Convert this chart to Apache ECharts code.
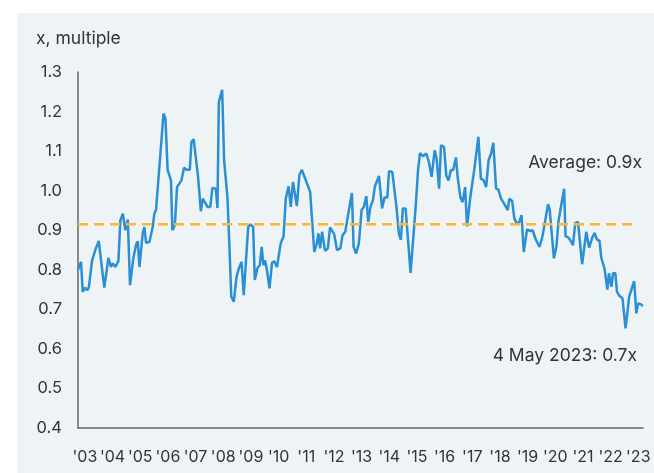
<!DOCTYPE html>
<html>
<head>
<meta charset="utf-8">
<style>
  html, body { margin: 0; padding: 0; background: #ffffff; }
  #chart { width: 654px; height: 473px; }
</style>
<script src="https://cdn.jsdelivr.net/npm/echarts@6/dist/echarts.min.js"></script>
</head>
<body>
<div id="chart"></div>
<script>
// Time as decimal years
const dates = [
  2002.75, 2002.86, 2002.92, 2003.01, 2003.08, 2003.14, 2003.26, 2003.38, 2003.50, 2003.70,
  2003.85, 2003.94, 2004.01, 2004.10, 2004.21, 2004.28, 2004.37, 2004.46, 2004.55, 2004.63,
  2004.75, 2004.85, 2004.91, 2004.97, 2005.09, 2005.15, 2005.21, 2005.33, 2005.45, 2005.51,
  2005.57, 2005.84, 2005.91, 2005.99, 2006.11, 2006.16, 2006.25, 2006.33, 2006.49, 2006.58,
  2006.67, 2006.79, 2006.85, 2006.93, 2007.09, 2007.19, 2007.26, 2007.43, 2007.53, 2007.61,
  2007.73, 2007.79, 2007.84, 2007.96, 2008.03, 2008.15, 2008.21, 2008.29, 2008.38, 2008.48,
  2008.56, 2008.66, 2008.74, 2008.90, 2008.98, 2009.08, 2009.14, 2009.24, 2009.32, 2009.39,
  2009.45, 2009.51, 2009.57, 2009.67, 2009.76, 2009.84, 2009.94, 2009.99, 2010.08, 2010.18,
  2010.26, 2010.36, 2010.44, 2010.52, 2010.59, 2010.66, 2010.75, 2010.84, 2011.14, 2011.29,
  2011.38, 2011.44, 2011.50, 2011.57, 2011.68, 2011.78, 2011.86, 2012.01, 2012.11, 2012.23,
  2012.31, 2012.41, 2012.53, 2012.65, 2012.71, 2012.80, 2012.90, 2013.00, 2013.08, 2013.17,
  2013.24, 2013.32, 2013.41, 2013.48, 2013.63, 2013.74, 2013.83, 2013.93, 2013.99, 2014.11,
  2014.26, 2014.35, 2014.42, 2014.49, 2014.59, 2014.77, 2014.95, 2015.04, 2015.11, 2015.22,
  2015.34, 2015.43, 2015.53, 2015.64, 2015.71, 2015.80, 2015.87, 2015.98, 2016.06, 2016.14,
  2016.23, 2016.31, 2016.41, 2016.47, 2016.57, 2016.65, 2016.74, 2016.81, 2016.93, 2017.07,
  2017.22, 2017.31, 2017.41, 2017.50, 2017.59, 2017.68, 2017.76, 2017.86, 2017.94, 2018.04,
  2018.16, 2018.28, 2018.34, 2018.44, 2018.52, 2018.62, 2018.70, 2018.78, 2018.86, 2018.98,
  2019.10, 2019.18, 2019.30, 2019.43, 2019.53, 2019.74, 2019.80, 2019.95, 2020.04, 2020.12,
  2020.19, 2020.32, 2020.37, 2020.46, 2020.56, 2020.64, 2020.72, 2020.82, 2020.97, 2021.12,
  2021.22, 2021.34, 2021.42, 2021.51, 2021.60, 2021.66, 2021.78, 2021.88, 2021.94, 2022.03,
  2022.09, 2022.17, 2022.23, 2022.33, 2022.43, 2022.54, 2022.59, 2022.67, 2022.85, 2022.93,
  2022.99, 2023.09, 2023.17
];
const values = [
  0.800, 0.820, 0.744, 0.755, 0.748, 0.755, 0.824, 0.851, 0.873, 0.755,
  0.830, 0.807, 0.816, 0.807, 0.822, 0.925, 0.942, 0.900, 0.927, 0.761,
  0.829, 0.864, 0.872, 0.807, 0.892, 0.908, 0.868, 0.870, 0.908, 0.942,
  0.951, 1.195, 1.182, 1.052, 1.026, 0.900, 0.913, 1.009, 1.026, 1.058,
  1.053, 1.053, 1.123, 1.130, 1.035, 0.948, 0.980, 0.959, 0.959, 1.007,
  1.005, 0.956, 1.224, 1.255, 1.077, 0.984, 0.883, 0.732, 0.719, 0.782,
  0.803, 0.820, 0.736, 0.908, 0.915, 0.908, 0.774, 0.805, 0.812, 0.858,
  0.812, 0.824, 0.803, 0.753, 0.817, 0.822, 0.807, 0.810, 0.868, 0.885,
  0.980, 1.011, 0.959, 1.022, 1.018, 0.961, 1.039, 1.053, 0.997, 0.845,
  0.866, 0.892, 0.854, 0.896, 0.848, 0.854, 0.907, 0.890, 0.850, 0.854,
  0.887, 0.896, 0.946, 0.994, 0.858, 0.841, 0.866, 0.951, 0.959, 0.986,
  0.921, 0.959, 0.976, 1.011, 1.037, 0.955, 0.983, 0.983, 1.049, 1.047,
  0.959, 0.890, 0.876, 0.955, 0.955, 0.792, 0.955, 1.052, 1.095, 1.087,
  1.094, 1.073, 1.035, 1.102, 1.081, 1.005, 1.115, 1.110, 1.039, 1.026,
  1.052, 1.052, 1.084, 1.035, 0.983, 0.971, 1.009, 0.910, 0.984, 1.052,
  1.136, 1.031, 1.026, 1.009, 1.077, 1.094, 1.121, 1.005, 1.003, 0.980,
  0.966, 0.951, 0.980, 0.974, 0.930, 0.915, 0.921, 0.938, 0.845, 0.902,
  0.898, 0.900, 0.876, 0.858, 0.882, 0.966, 0.951, 0.829, 0.858, 0.925,
  0.930, 1.005, 0.885, 0.882, 0.873, 0.862, 0.918, 0.921, 0.814, 0.896,
  0.856, 0.882, 0.893, 0.876, 0.873, 0.831, 0.803, 0.750, 0.791, 0.757,
  0.792, 0.791, 0.744, 0.733, 0.728, 0.652, 0.656, 0.732, 0.771, 0.690,
  0.715, 0.713, 0.708
];
const averageValue = 0.915;
const averageSpan = [2002.75, 2022.95];
const yearTicks = [2003, 2004, 2005, 2006, 2007, 2008, 2009, 2010, 2011, 2012, 2013,
                   2014, 2015, 2016, 2017, 2018, 2019, 2020, 2021, 2022, 2023];
const yTicks = [0.4, 0.5, 0.6, 0.7, 0.8, 0.9, 1.0, 1.1, 1.2, 1.3];

const seriesData = dates.map((d, i) => [d, values[i]]);
const avgData = averageSpan.map(d => [d, averageValue]);

const FONT = 'Inter, "Noto Sans", sans-serif';
const chart = echarts.init(document.getElementById('chart'), null, { renderer: 'canvas' });
chart.setOption({
  backgroundColor: '#ffffff',
  animation: false,
  graphic: [
    { type: 'rect', z: -10, shape: { x: 17, y: 13, width: 660, height: 470 }, style: { fill: '#EEF4F5' } },
    { type: 'text', left: 36, top: 30, style: { text: 'x, multiple', font: '17.5px ' + FONT, fill: '#333333' } },
    { type: 'text', right: 12, top: 154, style: { text: 'Average: 0.9x', font: '17.5px ' + FONT, fill: '#333333' } },
    { type: 'text', right: 17, top: 347, style: { text: '4 May 2023: 0.7x', font: '17.5px ' + FONT, fill: '#333333' } }
  ],
  grid: { left: 78, right: 11, top: 72, bottom: 45 },
  xAxis: {
    type: 'value',
    min: dates[0],
    max: dates[dates.length - 1],
    splitLine: { show: false },
    axisLine: { show: true, lineStyle: { color: '#666666', width: 1.5 } },
    axisTick: { show: false },
    axisLabel: {
      customValues: yearTicks,
      formatter: v => "'" + String(Math.round(v)).slice(2),
      color: '#333333',
      fontSize: 16,
      fontFamily: FONT,
      margin: 21
    }
  },
  yAxis: {
    type: 'value',
    min: yTicks[0],
    max: yTicks[yTicks.length - 1],
    interval: 0.1,
    splitLine: { show: false },
    axisLine: { show: true, lineStyle: { color: '#666666', width: 1.5 } },
    axisTick: { show: false },
    axisLabel: {
      formatter: v => v.toFixed(1),
      color: '#333333',
      fontSize: 16.5,
      fontFamily: FONT,
      margin: 16
    }
  },
  series: [
    {
      type: 'line',
      data: avgData,
      symbol: 'none',
      lineStyle: { color: '#FBB731', width: 2.5, type: [10, 6] },
      z: 3
    },
    {
      type: 'line',
      data: seriesData,
      symbol: 'none',
      lineStyle: { color: '#2A8FD3', width: 2.5 },
      z: 2
    }
  ]
});
</script>
</body>
</html>
